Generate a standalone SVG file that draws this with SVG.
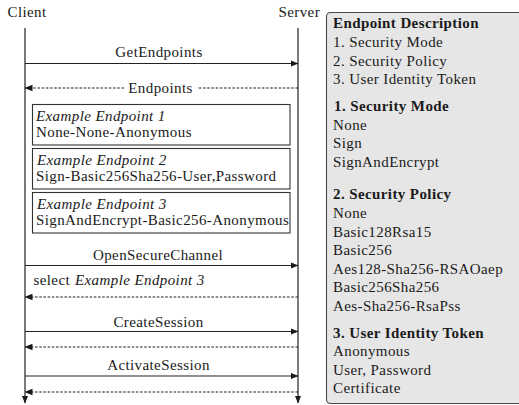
<svg xmlns="http://www.w3.org/2000/svg" width="519" height="405" viewBox="0 0 519 405">
  <defs>
    <marker id="head" viewBox="0 0 8 8" refX="7.5" refY="4" markerWidth="8" markerHeight="8" markerUnits="userSpaceOnUse" orient="auto">
      <path d="M0,0.8 L8,4 L0,7.2 Z" fill="#1a1a1a"/>
    </marker>
  </defs>

  <rect width="519" height="405" fill="#fff"/>

  <!-- participants -->
  <g id="client" font-family="Liberation Serif" font-size="15" fill="#1a1a1a" letter-spacing="0.4">
    <text x="7.5" y="17">Client</text>
  </g>
  <g id="server" font-family="Liberation Serif" font-size="15" fill="#1a1a1a" letter-spacing="0.4">
    <text x="278.5" y="17">Server</text>
  </g>

  <!-- lifelines and messages -->
  <g id="connectors" fill="none" stroke="#222" stroke-width="1.1">
    <line x1="25" y1="28" x2="25" y2="403" stroke-width="1.2" marker-end="url(#head)"/>
    <line x1="298" y1="28" x2="298" y2="403" stroke-width="1.2" marker-end="url(#head)"/>

    <line x1="25" y1="63.5" x2="298" y2="63.5" marker-end="url(#head)"/>
    <g stroke-dasharray="2.6 1.6">
      <line x1="124" y1="88" x2="25" y2="88" marker-end="url(#head)"/>
      <line x1="298" y1="88" x2="197" y2="88"/>
    </g>

    <line x1="25" y1="265.5" x2="298" y2="265.5" marker-end="url(#head)"/>
    <line x1="298" y1="297" x2="25" y2="297" stroke-dasharray="2.6 1.6" marker-end="url(#head)"/>
    <line x1="25" y1="331.5" x2="298" y2="331.5" marker-end="url(#head)"/>
    <line x1="298" y1="347" x2="25" y2="347" stroke-dasharray="2.6 1.6" marker-end="url(#head)"/>
    <line x1="25" y1="376" x2="298" y2="376" marker-end="url(#head)"/>
    <line x1="298" y1="392" x2="25" y2="392" stroke-dasharray="2.6 1.6" marker-end="url(#head)"/>
  </g>

  <!-- message labels -->
  <g id="labels" font-family="Liberation Serif" font-size="15" fill="#1a1a1a" letter-spacing="0.4">
    <text x="159" y="57" text-anchor="middle">GetEndpoints</text>
    <text x="160.5" y="92.5" text-anchor="middle">Endpoints</text>
    <text x="158" y="259.5" text-anchor="middle">OpenSecureChannel</text>
    <text x="33.5" y="284.5">select</text>
    <text x="75" y="284.5" font-style="italic">Example Endpoint 3</text>
    <text x="158.5" y="327" text-anchor="middle">CreateSession</text>
    <text x="158.5" y="370" text-anchor="middle">ActivateSession</text>
  </g>

  <!-- endpoint boxes -->
  <g id="endpoint1" font-family="Liberation Serif" font-size="15" letter-spacing="0.4">
    <rect x="32.5" y="104.5" width="257.5" height="40.5" fill="#fff" stroke="#333" stroke-width="1.1"/>
    <text x="36" y="121" fill="#1a1a1a" font-style="italic">Example Endpoint 1</text>
    <text x="36" y="137" fill="#1a1a1a">None-None-Anonymous</text>
  </g>
  <g id="endpoint2" font-family="Liberation Serif" font-size="15" letter-spacing="0.4">
    <rect x="32.5" y="148.5" width="257.5" height="40.5" fill="#fff" stroke="#333" stroke-width="1.1"/>
    <text x="37" y="165" fill="#1a1a1a" font-style="italic">Example Endpoint 2</text>
    <text x="36" y="181" fill="#1a1a1a">Sign-Basic256Sha256-User,Password</text>
  </g>
  <g id="endpoint3" font-family="Liberation Serif" font-size="15" letter-spacing="0.4">
    <rect x="32.5" y="192.5" width="257.5" height="40.5" fill="#fff" stroke="#333" stroke-width="1.1"/>
    <text x="37" y="209" fill="#1a1a1a" font-style="italic">Example Endpoint 3</text>
    <text x="36" y="225" fill="#1a1a1a">SignAndEncrypt-Basic256-Anonymous</text>
  </g>

  <!-- description panel -->
  <g id="description" font-family="Liberation Serif" font-size="15" letter-spacing="0.4">
    <rect x="326.5" y="12.5" width="200" height="391" rx="4" fill="#e6e6e6" stroke="#4a4a4a" stroke-width="1.1"/>
    <g fill="#1a1a1a">
      <text x="333" y="28" font-weight="bold">Endpoint Description</text>
      <text x="333" y="47">1. Security Mode</text>
      <text x="333" y="65.5">2. Security Policy</text>
      <text x="333" y="84">3. User Identity Token</text>

      <text x="334" y="111" font-weight="bold">1. Security Mode</text>
      <text x="333" y="129.5">None</text>
      <text x="333" y="148">Sign</text>
      <text x="333" y="166.5">SignAndEncrypt</text>

      <text x="333" y="199" font-weight="bold">2. Security Policy</text>
      <text x="333" y="218">None</text>
      <text x="333" y="236.5">Basic128Rsa15</text>
      <text x="333" y="255">Basic256</text>
      <text x="333" y="273.5">Aes128-Sha256-RSAOaep</text>
      <text x="333" y="292">Basic256Sha256</text>
      <text x="333" y="310.5">Aes-Sha256-RsaPss</text>

      <text x="333" y="337.5" font-weight="bold">3. User Identity Token</text>
      <text x="333" y="356">Anonymous</text>
      <text x="333" y="374.5">User, Password</text>
      <text x="333" y="393">Certificate</text>
    </g>
  </g>
</svg>
